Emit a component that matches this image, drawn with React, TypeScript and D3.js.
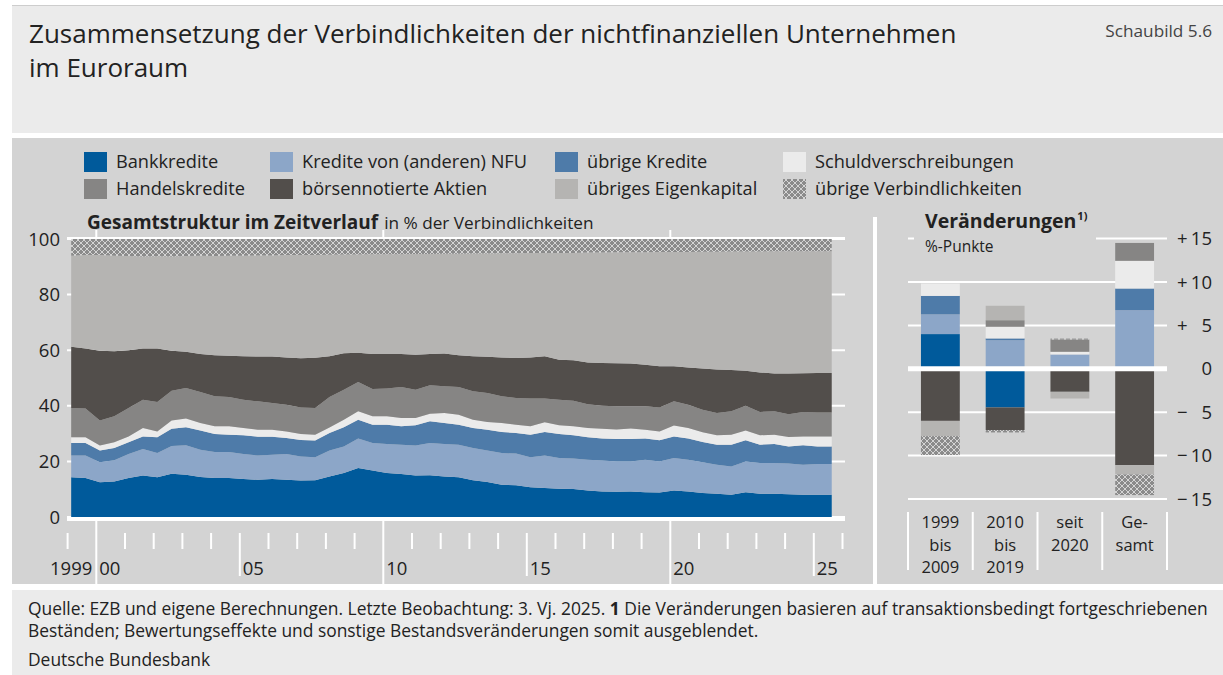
import React, { useEffect, useRef } from 'react';
import * as d3 from 'd3';

// Zeitachse: Werte jeweils im 1. und 3. Quartal, 1999 bis 2025
const periods = d3.range(1999, 2026).flatMap(y => [`${y}-Q1`, `${y}-Q3`]);

// Anteile an den Verbindlichkeiten in %
const bankkredite = [14.3, 14.0, 12.5, 12.8, 14.0, 14.9, 14.3, 15.6, 15.2, 14.4, 14.0, 14.0, 13.7, 13.4, 13.7, 13.4, 13.1, 13.2, 14.6, 15.8, 17.6, 16.7, 15.8, 15.5, 14.9, 15.0, 14.6, 14.3, 13.2, 12.6, 11.6, 11.4, 10.7, 10.4, 10.2, 10.1, 9.5, 9.2, 9.1, 9.2, 8.9, 8.8, 9.5, 9.2, 8.6, 8.4, 8.0, 8.9, 8.4, 8.4, 8.2, 8.0, 8.0, 8.0];
const krediteNfu = [7.8, 8.1, 7.2, 7.6, 8.7, 9.6, 8.7, 9.9, 10.6, 9.8, 9.4, 9.4, 9.0, 8.7, 8.7, 9.3, 8.7, 8.3, 9.3, 9.6, 10.6, 9.9, 10.5, 10.5, 10.8, 11.6, 11.7, 11.7, 11.6, 11.3, 11.4, 11.4, 10.8, 11.7, 11.0, 10.9, 11.1, 11.1, 10.9, 10.8, 11.7, 11.2, 11.7, 11.4, 11.1, 10.4, 10.2, 11.1, 11.0, 11.0, 11.0, 10.8, 11.1, 11.1];
const uebrigeKredite = [4.5, 4.5, 4.2, 4.4, 4.2, 4.5, 5.7, 6.2, 6.5, 6.9, 6.5, 6.2, 6.7, 6.8, 6.5, 5.7, 5.9, 6.0, 6.3, 6.9, 6.8, 6.6, 6.9, 6.6, 7.3, 7.8, 7.5, 7.2, 7.2, 7.5, 7.6, 7.4, 8.1, 8.5, 8.7, 8.4, 8.1, 7.9, 8.1, 8.1, 7.6, 7.6, 7.8, 7.6, 7.3, 7.2, 7.8, 7.6, 6.6, 6.9, 6.2, 7.0, 6.3, 6.3];
const schuldverschreibungen = [2.1, 2.1, 1.8, 2.1, 2.1, 3.0, 2.1, 3.0, 3.1, 2.7, 2.7, 3.0, 2.6, 2.5, 2.5, 2.4, 2.2, 2.1, 2.0, 2.7, 3.0, 3.0, 3.0, 3.0, 2.6, 2.7, 3.6, 3.6, 3.0, 2.8, 3.2, 3.0, 3.0, 3.5, 3.1, 3.2, 3.3, 3.5, 3.4, 3.7, 3.2, 3.2, 3.9, 3.8, 3.5, 3.4, 3.6, 3.5, 3.4, 3.3, 3.4, 3.2, 3.6, 3.6];
const handelskredite = [10.5, 10.3, 9.0, 9.3, 10.2, 10.2, 10.6, 10.7, 11.0, 11.2, 10.8, 10.6, 10.2, 10.2, 9.6, 9.6, 9.5, 9.6, 11.0, 10.8, 10.6, 9.8, 10.0, 11.2, 10.2, 10.3, 9.6, 10.0, 10.2, 10.4, 9.6, 9.6, 10.0, 8.5, 9.2, 9.2, 8.6, 8.3, 8.3, 8.0, 8.4, 8.6, 8.7, 8.4, 8.1, 8.0, 8.4, 8.9, 8.4, 8.4, 8.2, 8.8, 8.6, 8.6];
const aktien = [22.0, 21.6, 25.1, 23.4, 20.8, 18.4, 19.2, 14.4, 13.0, 13.6, 14.8, 14.8, 15.6, 16.1, 16.7, 17.0, 17.7, 18.1, 14.6, 13.1, 10.5, 12.6, 12.4, 11.8, 12.6, 11.2, 11.8, 11.4, 12.6, 13.0, 14.0, 14.4, 14.8, 15.2, 14.4, 14.6, 15.0, 15.4, 15.5, 15.4, 15.0, 14.8, 12.6, 13.4, 14.8, 15.7, 14.9, 12.6, 14.2, 13.6, 14.6, 13.9, 14.2, 14.2];
const eigenkapital = [32.8, 33.6, 34.4, 34.4, 33.9, 33.1, 33.2, 33.9, 34.5, 35.4, 35.7, 36.0, 36.2, 36.4, 36.4, 36.8, 37.1, 36.9, 36.5, 35.5, 35.3, 35.9, 35.9, 35.9, 36.2, 36.0, 35.9, 36.5, 37.0, 37.2, 37.5, 37.7, 37.6, 37.2, 38.4, 38.6, 39.5, 39.7, 39.9, 40.0, 40.4, 41.1, 41.1, 41.5, 42.0, 42.3, 42.6, 42.9, 43.5, 44.0, 44.0, 43.9, 43.8, 43.8];
const uebrigeVerb = [6.0, 5.8, 5.8, 6.0, 6.1, 6.3, 6.2, 6.3, 6.1, 6.0, 6.1, 6.0, 6.0, 5.9, 5.9, 5.8, 5.8, 5.8, 5.7, 5.6, 5.6, 5.5, 5.5, 5.5, 5.4, 5.4, 5.3, 5.3, 5.2, 5.2, 5.1, 5.1, 5.0, 5.0, 5.0, 5.0, 4.9, 4.9, 4.8, 4.8, 4.8, 4.7, 4.7, 4.7, 4.6, 4.6, 4.5, 4.5, 4.5, 4.4, 4.4, 4.4, 4.4, 4.4];

// Veränderungen in %-Punkten
const changeCats = ['1999-2009', '2010-2019', 'seit 2020', 'Gesamt'];
const changeLabels = [['1999', 'bis', '2009'], ['2010', 'bis', '2019'], ['seit', '2020'], ['Ge-', 'samt']];
const chBank = [4.0, -4.45, 0, 0];
const chNfu = [2.27, 3.3, 1.65, 6.76];
const chUebrKredite = [2.13, 0.2, 0, 2.49];
const chSchuld = [1.43, 1.34, 0.31, 3.19];
const chHandel = [0, 0.76, 1.42, 2.06];
const chAktien = [-6.0, -2.61, -2.65, -11.1];
const chEigen = [-1.75, 1.66, -0.77, -1.07];
const chUebrVerb = [-2.19, -0.27, 0.1, -2.38];

const keys = ['bank', 'nfu', 'uebrKred', 'schuld', 'handel', 'aktien', 'eigen', 'uebrVerb'];
const legendLabels = ['Bankkredite', 'Kredite von (anderen) NFU', 'übrige Kredite', 'Schuldverschreibungen',
  'Handelskredite', 'börsennotierte Aktien', 'übriges Eigenkapital', 'übrige Verbindlichkeiten'];
const colors = {
  bank: '#005a9b', nfu: '#8ca6c8', uebrKred: '#4e7ba9', schuld: '#ebebeb',
  handel: '#868584', aktien: '#524e4b', eigen: '#b5b4b2', uebrVerb: 'url(#hatch)',
};

const yTicksLeft = [0, 20, 40, 60, 80, 100];
const yTicksRight = [15, 10, 5, 0, -5, -10, -15];
const yearLabels = [['1999', 1999], ['00', 2000], ['05', 2005], ['10', 2010], ['15', 2015], ['20', 2020], ['25', 2025]];

const FONT = "'Open Sans', 'Noto Sans', sans-serif";
const PANEL = '#d3d3d3';
const INK = '#222';

const App = () => {
  const ref = useRef(null);

  useEffect(() => {
    const svg = d3.select(ref.current);
    svg.selectAll('*').remove();

    const defs = svg.append('defs');
    const pat = defs.append('pattern').attr('id', 'hatch').attr('patternUnits', 'userSpaceOnUse')
      .attr('width', 6).attr('height', 6);
    pat.append('rect').attr('width', 6).attr('height', 6).attr('fill', '#8b8b8b');
    pat.append('path').attr('d', 'M0,0L6,6M6,0L0,6M-1,5L1,7M5,-1L7,1M-1,1L1,-1M5,7L7,5')
      .attr('stroke', '#d4d4d4').attr('stroke-width', 1);

    // Hintergründe
    svg.append('rect').attr('width', 1223).attr('height', 675).attr('fill', '#fff');
    svg.append('rect').attr('x', 12).attr('y', 6).attr('width', 1211).attr('height', 127).attr('fill', '#ebebeb');
    svg.append('line').attr('x1', 12).attr('x2', 1223).attr('y1', 5.5).attr('y2', 5.5).attr('stroke', '#cdcdcd');
    svg.append('rect').attr('x', 12).attr('y', 138).attr('width', 1211).attr('height', 446).attr('fill', PANEL);
    svg.append('rect').attr('x', 12).attr('y', 590).attr('width', 1211).attr('height', 85).attr('fill', '#ebebeb');

    // Titel
    const title = svg.append('text').attr('font-size', 26).attr('fill', INK);
    title.append('tspan').attr('x', 29).attr('y', 43).text('Zusammensetzung der Verbindlichkeiten der nichtfinanziellen Unternehmen');
    title.append('tspan').attr('x', 29).attr('y', 77).text('im Euroraum');
    svg.append('text').attr('x', 1212).attr('y', 37).attr('text-anchor', 'end').attr('font-size', 17.2)
      .attr('fill', '#444').text('Schaubild 5.6');

    // Legende
    const colX = [84, 270, 555, 783];
    const rowY = [152, 179];
    keys.forEach((k, i) => {
      const cx = colX[i % 4], cy = rowY[Math.floor(i / 4)];
      svg.append('rect').attr('x', cx).attr('y', cy).attr('width', 23).attr('height', 20).attr('fill', colors[k]);
      svg.append('text').attr('x', cx + 32).attr('y', cy + 16).attr('font-size', 18.2).attr('fill', INK)
        .text(legendLabels[i]);
    });

    // Linke Grafik: Gesamtstruktur
    const xT = d3.scaleLinear().domain([1999, 2026]).range([67.6, 842.5]);
    const yL = d3.scaleLinear().domain([0, 100]).range([517, 239]);

    const subt = svg.append('text').attr('x', 87).attr('y', 229).attr('fill', INK);
    subt.append('tspan').attr('font-size', 19).attr('font-weight', 'bold').text('Gesamtstruktur im Zeitverlauf');
    subt.append('tspan').attr('font-size', 17.2).attr('dx', 6).text('in % der Verbindlichkeiten');

    yTicksLeft.forEach(v => {
      svg.append('line').attr('x1', 67).attr('x2', 845).attr('y1', yL(v)).attr('y2', yL(v))
        .attr('stroke', '#fff').attr('stroke-width', 2);
      svg.append('text').attr('x', 60).attr('y', yL(v) + 6.5).attr('text-anchor', 'end')
        .attr('font-size', 18.5).attr('fill', INK).text(v);
    });

    const rows = periods.map((p, i) => ({
      t: +p.slice(0, 4) + (p.endsWith('Q1') ? 0.125 : 0.625),
      bank: bankkredite[i], nfu: krediteNfu[i], uebrKred: uebrigeKredite[i], schuld: schuldverschreibungen[i],
      handel: handelskredite[i], aktien: aktien[i], eigen: eigenkapital[i], uebrVerb: uebrigeVerb[i],
    }));
    const series = d3.stack().keys(keys)(rows);
    const area = d3.area()
      .x(d => xT(d.data.t))
      .y0(d => yL(d[0]))
      .y1(d => yL(Math.min(d[1], 100)));
    svg.append('g').selectAll('path').data(series).enter().append('path')
      .attr('d', area).attr('fill', d => colors[d.key]);

    svg.append('line').attr('x1', 67).attr('x2', 845).attr('y1', yL(100) - 1).attr('y2', yL(100) - 1)
      .attr('stroke', '#fff').attr('stroke-width', 2);
    svg.append('rect').attr('x', 67).attr('y', yL(0)).attr('width', 778).attr('height', 4).attr('fill', '#fff');

    // Zeitachse
    d3.range(1999, 2027).forEach(yr => {
      const x = xT(yr);
      if (yr % 10 === 0) {
        svg.append('line').attr('x1', x).attr('x2', x).attr('y1', 230).attr('y2', 238)
          .attr('stroke', '#fff').attr('stroke-width', 2);
        svg.append('line').attr('x1', x).attr('x2', x).attr('y1', 521).attr('y2', 584)
          .attr('stroke', '#fff').attr('stroke-width', 2);
      } else if (yr % 5 === 0) {
        svg.append('line').attr('x1', x).attr('x2', x).attr('y1', 533).attr('y2', 576)
          .attr('stroke', '#fff').attr('stroke-width', 2);
      } else {
        svg.append('line').attr('x1', x).attr('x2', x).attr('y1', 533).attr('y2', 549)
          .attr('stroke', '#fff').attr('stroke-width', 2);
      }
    });
    yearLabels.forEach(([lab, yr]) => {
      const first = yr === 1999;
      svg.append('text').attr('x', first ? xT(2000) - 4 : xT(yr) + 3).attr('y', 575)
        .attr('text-anchor', first ? 'end' : 'start').attr('font-size', 18.5).attr('fill', INK).text(lab);
    });

    // Trennlinie
    svg.append('rect').attr('x', 873).attr('y', 217).attr('width', 4).attr('height', 367).attr('fill', '#fff');

    // Rechte Grafik: Veränderungen
    const xB = d3.scaleBand().domain(changeCats).range([908, 1167]).paddingInner(0.4).paddingOuter(0.2);
    const yR = d3.scaleLinear().domain([-15, 15]).range([499, 238.6]);

    yTicksRight.forEach(v => {
      if (v !== 0) {
        svg.append('line').attr('x1', 908).attr('x2', 1167).attr('y1', yR(v)).attr('y2', yR(v))
          .attr('stroke', '#fff').attr('stroke-width', 2);
      }
      const ty = yR(v) + 6.5;
      if (v === 0) {
        svg.append('text').attr('x', 1212).attr('y', ty).attr('text-anchor', 'end').attr('font-size', 18.5)
          .attr('fill', INK).text('0');
      } else {
        svg.append('text').attr('x', 1177).attr('y', ty).attr('font-size', 18.5).attr('fill', INK)
          .text(v > 0 ? '+' : '\u2212');
        svg.append('text').attr('x', 1212).attr('y', ty).attr('text-anchor', 'end').attr('font-size', 18.5)
          .attr('fill', INK).text(Math.abs(v));
      }
    });

    svg.append('rect').attr('x', 914).attr('y', 208).attr('width', 182).attr('height', 46).attr('fill', PANEL);
    const rt = svg.append('text').attr('x', 925).attr('y', 228).attr('fill', INK);
    rt.append('tspan').attr('font-size', 19.5).attr('font-weight', 'bold').text('Veränderungen');
    rt.append('tspan').attr('font-size', 11).attr('font-weight', 'bold').attr('dy', -8).attr('dx', 1).text('1)');
    svg.append('text').attr('x', 925).attr('y', 251.5).attr('font-size', 15.5).attr('fill', INK).text('%-Punkte');

    const chRows = changeCats.map((c, i) => ({
      cat: c, bank: chBank[i], nfu: chNfu[i], uebrKred: chUebrKredite[i], schuld: chSchuld[i],
      handel: chHandel[i], aktien: chAktien[i], eigen: chEigen[i], uebrVerb: chUebrVerb[i],
    }));
    const chSeries = d3.stack().keys(keys).offset(d3.stackOffsetDiverging)(chRows);
    chSeries.forEach(s => {
      svg.append('g').selectAll('rect').data(s).enter().append('rect')
        .attr('x', d => xB(d.data.cat))
        .attr('width', xB.bandwidth())
        .attr('y', d => yR(Math.max(d[0], d[1])))
        .attr('height', d => Math.abs(yR(d[0]) - yR(d[1])))
        .attr('fill', colors[s.key]);
    });

    svg.append('line').attr('x1', 908).attr('x2', 1167).attr('y1', yR(0)).attr('y2', yR(0))
      .attr('stroke', '#fff').attr('stroke-width', 5);

    const step = xB.step();
    d3.range(5).forEach(i => {
      const x = 908 + i * step;
      svg.append('line').attr('x1', x).attr('x2', x).attr('y1', 512).attr('y2', 570)
        .attr('stroke', '#fff').attr('stroke-width', 2);
    });
    // mehrzeilige Kategorienamen
    changeCats.forEach((c, i) => {
      const cx = xB(c) + xB.bandwidth() / 2;
      changeLabels[i].forEach((l, j) => {
        svg.append('text').attr('x', cx).attr('y', 528 + j * 22.5).attr('text-anchor', 'middle')
          .attr('font-size', 16.5).attr('fill', INK).text(l);
      });
    });

    // Fußnote
    const f1 = svg.append('text').attr('x', 28).attr('y', 615).attr('font-size', 17.4).attr('fill', INK);
    f1.append('tspan').text('Quelle: EZB und eigene Berechnungen. Letzte Beobachtung: 3. Vj. 2025. ');
    f1.append('tspan').attr('font-weight', 'bold').text('1');
    f1.append('tspan').text(' Die Veränderungen basieren auf transaktionsbedingt fortgeschriebenen');
    svg.append('text').attr('x', 28).attr('y', 637).attr('font-size', 17.4).attr('fill', INK)
      .text('Beständen; Bewertungseffekte und sonstige Bestandsveränderungen somit ausgeblendet.');
    svg.append('text').attr('x', 28).attr('y', 666).attr('font-size', 17.4).attr('fill', INK)
      .text('Deutsche Bundesbank');
  }, []);

  return (
    <div style={{ position: 'absolute', left: 0, top: 0 }}>
      <svg ref={ref} width={1223} height={675} style={{ display: 'block', fontFamily: FONT }}></svg>
    </div>
  );
};

export default App;
